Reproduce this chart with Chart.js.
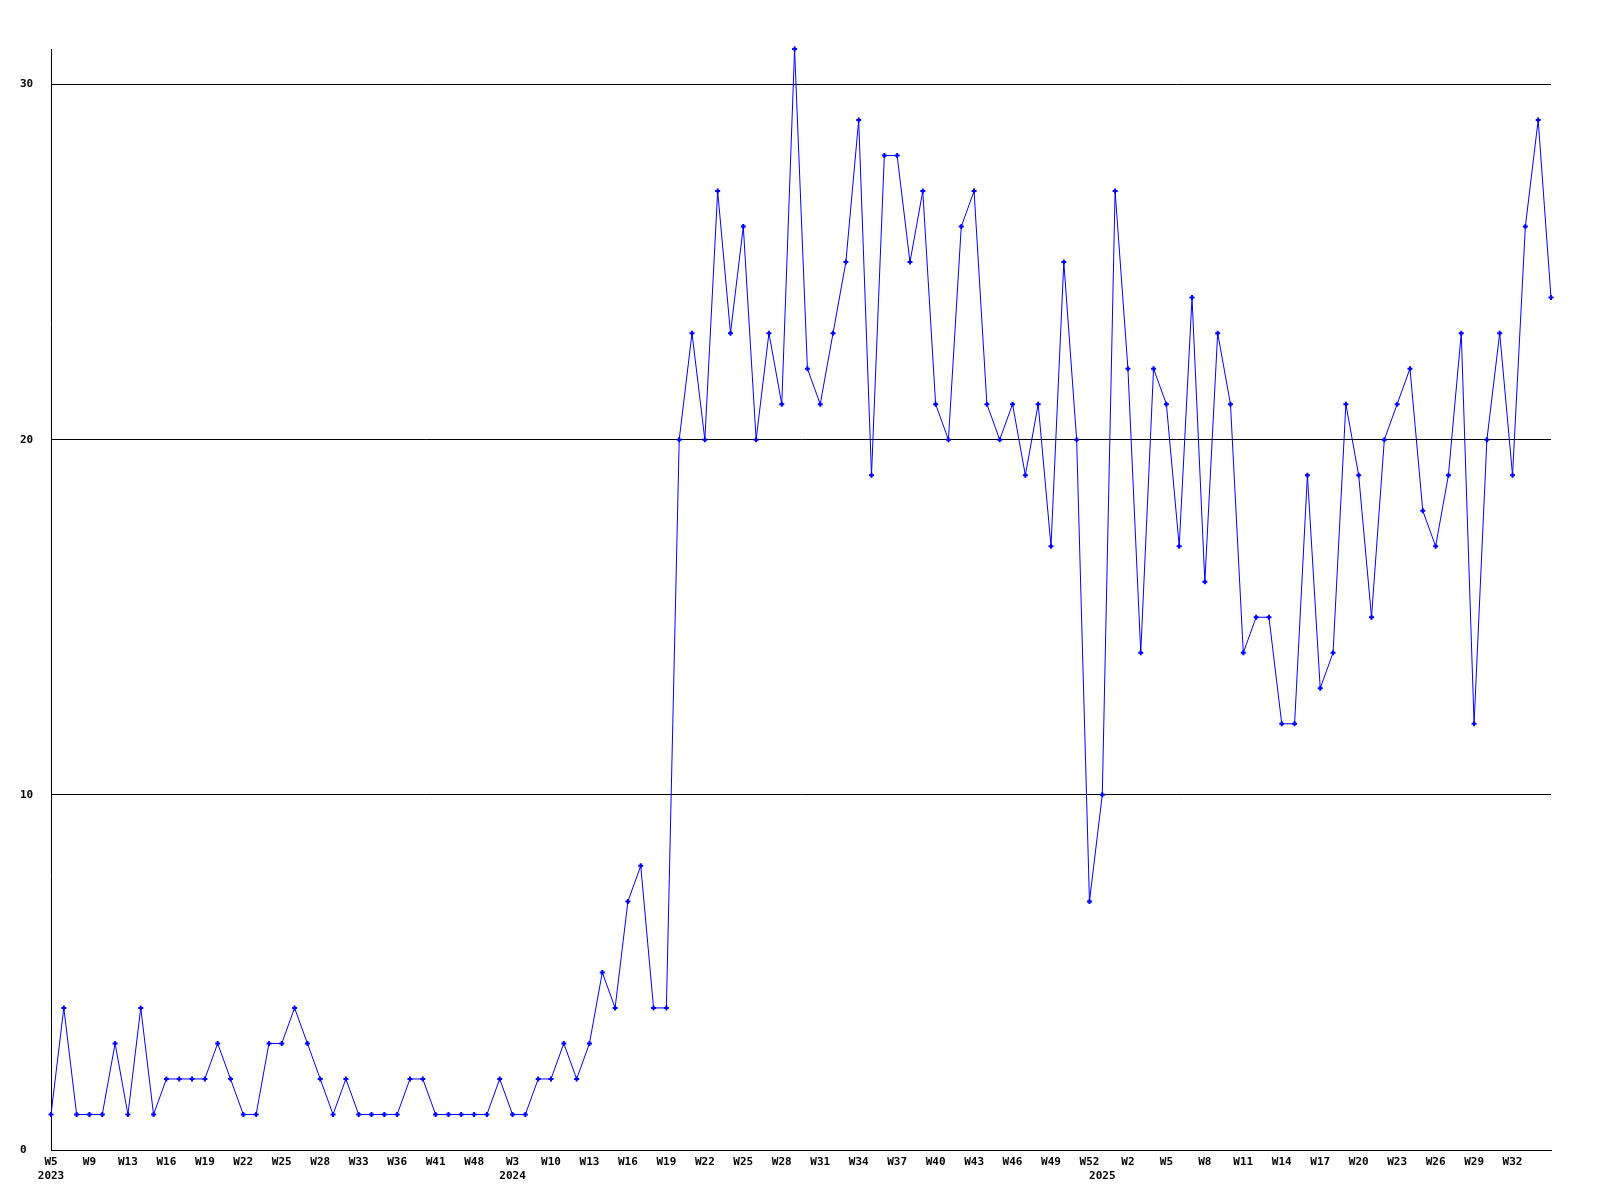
<!DOCTYPE html>
<html>
<head>
<meta charset="utf-8">
<script src="https://cdn.jsdelivr.net/npm/chart.js@4/dist/chart.umd.min.js"></script>
<style>
  body { margin: 0; background: #fff; }
  canvas { display: block; }
</style>
</head>
<body>
<canvas id="weekly" width="1600" height="1200"></canvas>
<script>
var weekLabels = [
    // 2023
    'W5', 'W6', 'W8', 'W9', 'W10', 'W12', 'W13', 'W14', 'W15', 'W16', 'W17', 'W18',
    'W19', 'W20', 'W21', 'W22', 'W23', 'W24', 'W25', 'W26', 'W27', 'W28', 'W30', 'W31',
    'W33', 'W34', 'W35', 'W36', 'W38', 'W39', 'W41', 'W43', 'W45', 'W48', 'W50', 'W52',
    // 2024
    'W3', 'W5', 'W8', 'W10', 'W11', 'W12', 'W13', 'W14', 'W15', 'W16', 'W17', 'W18',
    'W19', 'W20', 'W21', 'W22', 'W23', 'W24', 'W25', 'W26', 'W27', 'W28', 'W29', 'W30',
    'W31', 'W32', 'W33', 'W34', 'W35', 'W36', 'W37', 'W38', 'W39', 'W40', 'W41', 'W42',
    'W43', 'W44', 'W45', 'W46', 'W47', 'W48', 'W49', 'W50', 'W51', 'W52',
    // 2025
    'W0', 'W1', 'W2', 'W3', 'W4', 'W5', 'W6', 'W7', 'W8', 'W9', 'W10', 'W11',
    'W12', 'W13', 'W14', 'W15', 'W16', 'W17', 'W18', 'W19', 'W20', 'W21', 'W22', 'W23',
    'W24', 'W25', 'W26', 'W27', 'W28', 'W29', 'W30', 'W31', 'W32', 'W33', 'W34', 'W35'
];

// index of the first point of each year, and the year shown under it
var yearStart = [0, 36, 82];
var yearNames = ['2023', '2024', '2025'];

var counts = [
    1, 4, 1, 1, 1, 3, 1, 4, 1, 2, 2, 2,
    2, 3, 2, 1, 1, 3, 3, 4, 3, 2, 1, 2,
    1, 1, 1, 1, 2, 2, 1, 1, 1, 1, 1, 2,
    1, 1, 2, 2, 3, 2, 3, 5, 4, 7, 8, 4,
    4, 20, 23, 20, 27, 23, 26, 20, 23, 21, 31, 22,
    21, 23, 25, 29, 19, 28, 28, 25, 27, 21, 20, 26,
    27, 21, 20, 21, 19, 21, 17, 25, 20, 7, 10, 27,
    22, 14, 22, 21, 17, 24, 16, 23, 21, 14, 15, 15,
    12, 12, 19, 13, 14, 21, 19, 15, 20, 21, 22, 18,
    17, 19, 23, 12, 20, 23, 19, 26, 29, 24
];

var yTicks = [0, 10, 20, 30];

var labelFont = {
    family: 'DejaVu Sans Mono',
    size: 11,
    weight: 'bold',
    lineHeight: 1.3
};

var config = {
    type: 'line',
    data: {
        labels: weekLabels,
        datasets: [{
            data: counts,
            borderColor: '#0000ff',
            backgroundColor: '#0000ff',
            borderWidth: 1,
            tension: 0,
            pointStyle: 'cross',
            pointRadius: 2.5,
            pointBorderWidth: 2,
            pointHoverRadius: 2.5,
            clip: false
        }]
    },
    options: {
        responsive: false,
        animation: false,
        events: [],
        layout: {
            padding: { left: 20, top: 49, right: 49, bottom: 0 }
        },
        plugins: {
            legend: { display: false },
            tooltip: { enabled: false }
        },
        scales: {
            x: {
                offset: false,
                grid: { display: false, drawTicks: false },
                border: { display: true, color: '#000', width: 1 },
                ticks: {
                    autoSkip: false,
                    maxRotation: 0,
                    minRotation: 0,
                    padding: 5,
                    color: '#000',
                    font: labelFont,
                    callback: function (value, index) {
                        var lines = [];
                        var showWeek = index % 3 === 0 && index < weekLabels.length - 1;
                        lines.push(showWeek ? weekLabels[index] : '');
                        var y = yearStart.indexOf(index);
                        if (y >= 0) lines.push(yearNames[y]);
                        return lines;
                    }
                },
                afterFit: function (scale) {
                    scale.height = 50;
                }
            },
            y: {
                min: 0,
                max: 31,
                grid: { color: '#000', lineWidth: 1, drawTicks: false },
                border: { display: true, color: '#000', width: 1 },
                ticks: {
                    includeBounds: false,
                    crossAlign: 'far',
                    color: '#000',
                    font: labelFont,
                    padding: 0
                },
                afterBuildTicks: function (scale) {
                    scale.ticks = yTicks.map(function (v) { return { value: v }; });
                },
                afterFit: function (scale) {
                    scale.width = 31;
                }
            }
        }
    }
};

window.onload = function () {
    var ctx = document.getElementById('weekly').getContext('2d');
    window.weeklyChart = new Chart(ctx, config);
};
</script>
</body>
</html>
